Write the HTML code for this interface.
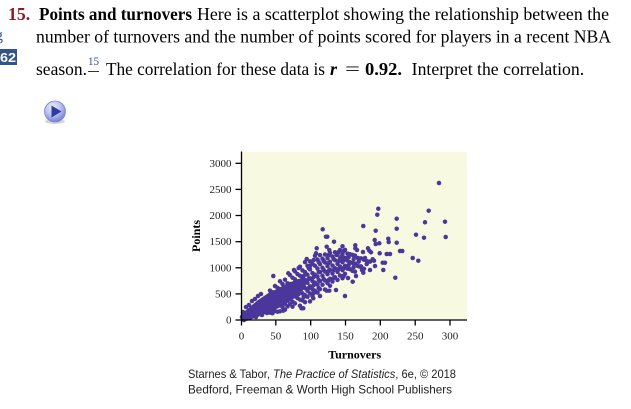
<!DOCTYPE html>
<html>
<head>
<meta charset="utf-8">
<style>
html,body{margin:0;padding:0;background:#fff;}
body{width:631px;height:409px;overflow:hidden;}
svg{display:block;}
.s{font-family:"Liberation Serif",serif;}
.a{font-family:"Liberation Sans",sans-serif;}
g.d circle{r:2.25px;}
</style>
</head>
<body>
<svg width="631" height="409" viewBox="0 0 631 409" xmlns="http://www.w3.org/2000/svg">
<rect x="0" y="0" width="631" height="409" fill="#fff"/>

<!-- left margin fragments -->
<text x="-5" y="40" class="s" font-size="16" fill="#3d5a8a">g</text>
<rect x="0" y="49" width="17" height="16" fill="#34538a"/>
<text x="0" y="62" class="a" font-size="13" font-weight="bold" fill="#fff" textLength="16" lengthAdjust="spacingAndGlyphs">62</text>

<!-- question text -->
<text x="8" y="20" class="s" font-size="17.7" font-weight="bold" fill="#8b1c24">15.</text>
<text x="39" y="20" class="s" font-size="17.7" font-weight="bold" fill="#000" textLength="153" lengthAdjust="spacingAndGlyphs">Points and turnovers</text>
<text x="197" y="20" class="s" font-size="17.7" fill="#000" textLength="412" lengthAdjust="spacingAndGlyphs">Here is a scatterplot showing the relationship between the</text>

<text x="36" y="42.5" class="s" font-size="17.7" fill="#000" textLength="575" lengthAdjust="spacingAndGlyphs">number of turnovers and the number of points scored for players in a recent NBA</text>

<text x="36" y="75" class="s" font-size="17.7" fill="#000" textLength="51" lengthAdjust="spacingAndGlyphs">season.</text>
<text x="88" y="65" class="s" font-size="12" fill="#2b4aa8" textLength="11" lengthAdjust="spacingAndGlyphs">15</text>
<line x1="88" y1="71.5" x2="99" y2="71.5" stroke="#333" stroke-width="1"/>
<text x="106" y="75" class="s" font-size="17.7" fill="#000" textLength="219" lengthAdjust="spacingAndGlyphs">The correlation for these data is</text>
<text x="330" y="75" class="s" font-size="18" font-style="italic" font-weight="bold" fill="#000">r</text>
<text x="345" y="75" class="s" font-size="18" fill="#000" textLength="15" lengthAdjust="spacingAndGlyphs">=</text>
<text x="365" y="75" class="s" font-size="17.7" font-weight="bold" fill="#000" textLength="37" lengthAdjust="spacingAndGlyphs">0.92.</text>
<text x="411.7" y="75" class="s" font-size="17.7" fill="#000" textLength="172.5" lengthAdjust="spacingAndGlyphs">Interpret the correlation.</text>

<!-- play button -->
<defs>
<radialGradient id="pb" cx="0.4" cy="0.3" r="0.75">
<stop offset="0" stop-color="#eef0fd"/>
<stop offset="0.55" stop-color="#b3bbee"/>
<stop offset="1" stop-color="#6a78cc"/>
</radialGradient>
</defs>
<ellipse cx="55" cy="121.5" rx="10" ry="2.5" fill="#bbb" opacity="0.6"/>
<circle cx="55" cy="111.5" r="10.5" fill="url(#pb)" stroke="#7683cf" stroke-width="0.8"/>
<polygon points="51.5,105.5 51.5,117.5 61.5,111.5" fill="#2d3f9e"/>

<!-- plot background -->
<rect x="242" y="152" width="225" height="167" fill="#f8f9e1"/>

<!-- data -->
<g class="d" fill="#4b379b">
<polygon points="241,321 241,315 246,310 252,305 258,300 264,296 270,292 277,289 284,285 291,282 298,279 304,278 306,285 302,292 296,297 289,302 281,307 272,311 263,315 255,318 248,320.5"/>
<circle cx="243" cy="312" r="2.1"/><circle cx="246" cy="307" r="2.1"/><circle cx="249" cy="305" r="2.1"/><circle cx="252" cy="301" r="2.1"/><circle cx="255" cy="299" r="2.1"/><circle cx="258" cy="296" r="2.1"/><circle cx="261" cy="294" r="2.1"/><circle cx="250" cy="318" r="2.1"/><circle cx="256" cy="317" r="2.1"/><circle cx="262" cy="315" r="2.1"/><circle cx="267" cy="313" r="2.1"/><circle cx="273" cy="311" r="2.1"/><circle cx="244" cy="320" r="2.1"/><circle cx="247" cy="318.5" r="2.1"/><circle cx="242" cy="317" r="2.1"/>
<circle cx="270" cy="290.6" r="2.1"/><circle cx="270" cy="295.6" r="2.1"/><circle cx="270" cy="308.6" r="2.1"/><circle cx="270" cy="312.6" r="2.1"/>
<circle cx="272.5" cy="292.3" r="2.1"/><circle cx="272.5" cy="298.3" r="2.1"/><circle cx="272.5" cy="309.3" r="2.1"/><circle cx="272.5" cy="313.3" r="2.1"/>
<circle cx="275" cy="286" r="2.1"/><circle cx="275" cy="294" r="2.1"/><circle cx="275" cy="304" r="2.1"/><circle cx="275" cy="311" r="2.1"/>
<circle cx="277.5" cy="287.7" r="2.1"/><circle cx="277.5" cy="296.7" r="2.1"/><circle cx="277.5" cy="305.7" r="2.1"/><circle cx="277.5" cy="311.7" r="2.1"/>
<circle cx="280" cy="281.3" r="2.1"/><circle cx="280" cy="289.3" r="2.1"/><circle cx="280" cy="297.3" r="2.1"/><circle cx="280" cy="305.3" r="2.1"/><circle cx="280" cy="311.3" r="2.1"/>
<circle cx="282.5" cy="284" r="2.1"/><circle cx="282.5" cy="292" r="2.1"/><circle cx="282.5" cy="301" r="2.1"/><circle cx="282.5" cy="307" r="2.1"/>
<circle cx="285" cy="279.7" r="2.1"/><circle cx="285" cy="287.7" r="2.1"/><circle cx="285" cy="296.7" r="2.1"/><circle cx="285" cy="303.7" r="2.1"/><circle cx="285" cy="309.7" r="2.1"/>
<circle cx="287.5" cy="283.4" r="2.1"/><circle cx="287.5" cy="291.4" r="2.1"/><circle cx="287.5" cy="300.4" r="2.1"/><circle cx="287.5" cy="306.4" r="2.1"/>
<circle cx="290" cy="275" r="2.1"/><circle cx="290" cy="284" r="2.1"/><circle cx="290" cy="291" r="2.1"/><circle cx="290" cy="298" r="2.1"/><circle cx="290" cy="304" r="2.1"/>
<circle cx="292.5" cy="277.7" r="2.1"/><circle cx="292.5" cy="285.7" r="2.1"/><circle cx="292.5" cy="294.7" r="2.1"/><circle cx="292.5" cy="301.7" r="2.1"/><circle cx="292.5" cy="306.7" r="2.1"/>
<circle cx="295" cy="271.4" r="2.1"/><circle cx="295" cy="279.4" r="2.1"/><circle cx="295" cy="287.4" r="2.1"/><circle cx="295" cy="296.4" r="2.1"/><circle cx="295" cy="303.4" r="2.1"/>
<circle cx="297.5" cy="274.1" r="2.1"/><circle cx="297.5" cy="282.1" r="2.1"/><circle cx="297.5" cy="290.1" r="2.1"/><circle cx="297.5" cy="298.1" r="2.1"/>
<circle cx="300" cy="266.7" r="2.1"/><circle cx="300" cy="275.7" r="2.1"/><circle cx="300" cy="283.7" r="2.1"/><circle cx="300" cy="291.7" r="2.1"/><circle cx="300" cy="299.7" r="2.1"/><circle cx="300" cy="305.7" r="2.1"/>
<circle cx="302.5" cy="270.4" r="2.1"/><circle cx="302.5" cy="278.4" r="2.1"/><circle cx="302.5" cy="286.4" r="2.1"/><circle cx="302.5" cy="293.4" r="2.1"/><circle cx="302.5" cy="300.4" r="2.1"/>
<circle cx="305" cy="262.1" r="2.1"/><circle cx="305" cy="272.1" r="2.1"/><circle cx="305" cy="280.1" r="2.1"/><circle cx="305" cy="288.1" r="2.1"/><circle cx="305" cy="295.1" r="2.1"/><circle cx="305" cy="302.1" r="2.1"/>
<circle cx="307.5" cy="265.8" r="2.1"/><circle cx="307.5" cy="274.8" r="2.1"/><circle cx="307.5" cy="282.8" r="2.1"/><circle cx="307.5" cy="290.8" r="2.1"/><circle cx="307.5" cy="296.8" r="2.1"/>
<circle cx="310" cy="261.4" r="2.1"/><circle cx="310" cy="269.4" r="2.1"/><circle cx="310" cy="278.4" r="2.1"/><circle cx="310" cy="286.4" r="2.1"/><circle cx="310" cy="293.4" r="2.1"/><circle cx="310" cy="301.4" r="2.1"/>
<circle cx="312.5" cy="264.1" r="2.1"/><circle cx="312.5" cy="273.1" r="2.1"/><circle cx="312.5" cy="281.1" r="2.1"/><circle cx="312.5" cy="289.1" r="2.1"/><circle cx="312.5" cy="296.1" r="2.1"/>
<circle cx="315" cy="255.8" r="2.1"/><circle cx="315" cy="265.8" r="2.1"/><circle cx="315" cy="274.8" r="2.1"/><circle cx="315" cy="282.8" r="2.1"/><circle cx="315" cy="290.8" r="2.1"/>
<circle cx="317.5" cy="259.5" r="2.1"/><circle cx="317.5" cy="268.5" r="2.1"/><circle cx="317.5" cy="276.5" r="2.1"/><circle cx="317.5" cy="284.5" r="2.1"/><circle cx="317.5" cy="292.5" r="2.1"/>
<circle cx="320" cy="255.1" r="2.1"/><circle cx="320" cy="264.1" r="2.1"/><circle cx="320" cy="272.1" r="2.1"/><circle cx="320" cy="281.1" r="2.1"/><circle cx="320" cy="289.1" r="2.1"/>
<circle cx="322.5" cy="258.8" r="2.1"/><circle cx="322.5" cy="267.8" r="2.1"/><circle cx="322.5" cy="275.8" r="2.1"/><circle cx="322.5" cy="284.8" r="2.1"/>
<circle cx="325" cy="254.5" r="2.1"/><circle cx="325" cy="262.5" r="2.1"/><circle cx="325" cy="271.5" r="2.1"/><circle cx="325" cy="280.5" r="2.1"/><circle cx="325" cy="289.5" r="2.1"/>
<circle cx="327.5" cy="258.2" r="2.1"/><circle cx="327.5" cy="266.2" r="2.1"/><circle cx="327.5" cy="274.2" r="2.1"/><circle cx="327.5" cy="283.2" r="2.1"/>
<circle cx="330" cy="252.8" r="2.1"/><circle cx="330" cy="261.8" r="2.1"/><circle cx="330" cy="269.8" r="2.1"/><circle cx="330" cy="278.8" r="2.1"/><circle cx="330" cy="285.8" r="2.1"/>
<circle cx="332.5" cy="256.5" r="2.1"/><circle cx="332.5" cy="265.5" r="2.1"/><circle cx="332.5" cy="273.5" r="2.1"/><circle cx="332.5" cy="281.5" r="2.1"/>
<circle cx="335" cy="252.2" r="2.1"/><circle cx="335" cy="260.2" r="2.1"/><circle cx="335" cy="268.2" r="2.1"/><circle cx="335" cy="277.2" r="2.1"/>
<circle cx="337.5" cy="254.9" r="2.1"/><circle cx="337.5" cy="263.9" r="2.1"/><circle cx="337.5" cy="271.9" r="2.1"/><circle cx="337.5" cy="279.9" r="2.1"/>
<circle cx="340" cy="250.5" r="2.1"/><circle cx="340" cy="258.5" r="2.1"/><circle cx="340" cy="266.5" r="2.1"/><circle cx="340" cy="275.5" r="2.1"/>
<circle cx="342.5" cy="246.2" r="2.1"/><circle cx="342.5" cy="254.2" r="2.1"/><circle cx="342.5" cy="262.2" r="2.1"/><circle cx="342.5" cy="270.2" r="2.1"/><circle cx="342.5" cy="278.2" r="2.1"/>
<circle cx="345" cy="249.9" r="2.1"/><circle cx="345" cy="257.9" r="2.1"/><circle cx="345" cy="265.9" r="2.1"/><circle cx="345" cy="273.9" r="2.1"/>
<circle cx="347.5" cy="253.6" r="2.1"/><circle cx="347.5" cy="260.6" r="2.1"/><circle cx="347.5" cy="268.6" r="2.1"/>
<circle cx="350" cy="254.2" r="2.1"/><circle cx="350" cy="262.2" r="2.1"/><circle cx="350" cy="269.2" r="2.1"/>
<circle cx="352.5" cy="254.9" r="2.1"/><circle cx="352.5" cy="262.9" r="2.1"/><circle cx="352.5" cy="270.9" r="2.1"/>
<circle cx="355" cy="255.6" r="2.1"/><circle cx="355" cy="263.6" r="2.1"/><circle cx="355" cy="271.6" r="2.1"/>
<circle cx="358" cy="258" r="2.1"/><circle cx="358" cy="266" r="2.1"/>
<circle cx="361" cy="258.4" r="2.1"/><circle cx="361" cy="266.4" r="2.1"/>
<circle cx="364" cy="259.8" r="2.1"/><circle cx="364" cy="268.8" r="2.1"/>
<circle cx="367" cy="261.2" r="2.1"/><circle cx="370" cy="261.6" r="2.1"/>
<circle cx="298.7" cy="268" r="2.1"/><circle cx="298.7" cy="286" r="2.1"/><circle cx="298.7" cy="294" r="2.1"/>
<circle cx="303.7" cy="276" r="2.1"/><circle cx="303.7" cy="284" r="2.1"/><circle cx="303.7" cy="297" r="2.1"/>
<circle cx="308.7" cy="268" r="2.1"/><circle cx="308.7" cy="279" r="2.1"/><circle cx="308.7" cy="288" r="2.1"/>
<circle cx="313.7" cy="260" r="2.1"/><circle cx="313.7" cy="277" r="2.1"/><circle cx="313.7" cy="285" r="2.1"/><circle cx="313.7" cy="293" r="2.1"/>
<circle cx="318.7" cy="262" r="2.1"/><circle cx="318.7" cy="272" r="2.1"/><circle cx="318.7" cy="280" r="2.1"/><circle cx="318.7" cy="288" r="2.1"/>
<circle cx="323.7" cy="261" r="2.1"/><circle cx="323.7" cy="270" r="2.1"/><circle cx="323.7" cy="279" r="2.1"/>
<circle cx="328.7" cy="255" r="2.1"/><circle cx="328.7" cy="263" r="2.1"/><circle cx="328.7" cy="271" r="2.1"/><circle cx="328.7" cy="280" r="2.1"/>
<circle cx="333.7" cy="259" r="2.1"/><circle cx="333.7" cy="270" r="2.1"/><circle cx="333.7" cy="278" r="2.1"/>
<circle cx="338.7" cy="252" r="2.1"/><circle cx="338.7" cy="261" r="2.1"/><circle cx="338.7" cy="269" r="2.1"/>
<circle cx="343.7" cy="251" r="2.1"/><circle cx="343.7" cy="260" r="2.1"/><circle cx="343.7" cy="268" r="2.1"/><circle cx="343.7" cy="276" r="2.1"/>
<circle cx="348.7" cy="257" r="2.1"/><circle cx="348.7" cy="265" r="2.1"/>
<circle cx="353.7" cy="259" r="2.1"/><circle cx="353.7" cy="267" r="2.1"/>
<!-- outliers -->
<circle cx="439" cy="183" r="2.1"/><circle cx="378.3" cy="208.7" r="2.1"/><circle cx="377.3" cy="214.7" r="2.1"/><circle cx="428.7" cy="210.7" r="2.1"/><circle cx="396.7" cy="218.7" r="2.1"/><circle cx="445" cy="221.7" r="2.1"/><circle cx="425" cy="222.3" r="2.1"/><circle cx="363.3" cy="226" r="2.1"/><circle cx="396.7" cy="228.7" r="2.1"/><circle cx="375.7" cy="230.7" r="2.1"/><circle cx="322.7" cy="229.3" r="2.1"/><circle cx="416" cy="234.7" r="2.1"/><circle cx="445.7" cy="237" r="2.1"/><circle cx="424" cy="237.7" r="2.1"/><circle cx="326" cy="236.7" r="2.1"/><circle cx="327.3" cy="236.7" r="2.1"/><circle cx="388.3" cy="238.7" r="2.1"/><circle cx="388.7" cy="242" r="2.1"/><circle cx="374.7" cy="240" r="2.1"/><circle cx="375.7" cy="244" r="2.1"/><circle cx="396.7" cy="242.7" r="2.1"/><circle cx="334" cy="241.7" r="2.1"/><circle cx="368" cy="248.3" r="2.1"/><circle cx="369.3" cy="250.7" r="2.1"/><circle cx="371" cy="252.3" r="2.1"/><circle cx="355.3" cy="245.3" r="2.1"/><circle cx="355.3" cy="248.3" r="2.1"/><circle cx="379.3" cy="243.3" r="2.1"/><circle cx="379.7" cy="253.3" r="2.1"/><circle cx="400" cy="251" r="2.1"/><circle cx="402.3" cy="251" r="2.1"/><circle cx="386.7" cy="254" r="2.1"/><circle cx="390" cy="254" r="2.1"/><circle cx="306.7" cy="259" r="2.1"/><circle cx="412.7" cy="258" r="2.1"/><circle cx="418.3" cy="260.7" r="2.1"/><circle cx="372.7" cy="259.3" r="2.1"/><circle cx="374" cy="260.7" r="2.1"/><circle cx="375" cy="266" r="2.1"/><circle cx="382.7" cy="262.7" r="2.1"/><circle cx="385" cy="262.7" r="2.1"/><circle cx="383.3" cy="270" r="2.1"/><circle cx="395.3" cy="277.7" r="2.1"/><circle cx="363.3" cy="272.7" r="2.1"/><circle cx="360" cy="266.7" r="2.1"/><circle cx="366.7" cy="264" r="2.1"/><circle cx="358" cy="258.3" r="2.1"/><circle cx="358.7" cy="261.7" r="2.1"/><circle cx="345" cy="296" r="2.1"/><circle cx="352.7" cy="281.7" r="2.1"/><circle cx="316.7" cy="248.3" r="2.1"/><circle cx="316" cy="253.3" r="2.1"/><circle cx="326.7" cy="246.7" r="2.1"/><circle cx="329.3" cy="250" r="2.1"/><circle cx="340" cy="250" r="2.1"/><circle cx="273.3" cy="276" r="2.1"/><circle cx="288.3" cy="273.3" r="2.1"/><circle cx="294" cy="270" r="2.1"/><circle cx="310" cy="266" r="2.1"/><circle cx="303.3" cy="308.3" r="2.1"/><circle cx="301.5" cy="308.3" r="2.1"/><circle cx="313.3" cy="298.3" r="2.1"/><circle cx="336.7" cy="255" r="2.1"/><circle cx="341.7" cy="256.7" r="2.1"/><circle cx="346.7" cy="258.3" r="2.1"/><circle cx="283.3" cy="310.7" r="2.1"/><circle cx="326.7" cy="290.7" r="2.1"/><circle cx="329.3" cy="290.7" r="2.1"/><circle cx="320" cy="296" r="2.1"/><circle cx="336" cy="290" r="2.1"/><circle cx="348" cy="278" r="2.1"/><circle cx="356" cy="276" r="2.1"/><circle cx="362" cy="270" r="2.1"/><circle cx="370" cy="270" r="2.1"/><circle cx="365" cy="258" r="2.1"/><circle cx="357" cy="250" r="2.1"/><circle cx="363" cy="252" r="2.1"/>
</g>

<!-- axes -->
<g stroke="#000" stroke-width="1.3" fill="none">
<line x1="241.5" y1="151.5" x2="241.5" y2="320.6"/>
<line x1="241" y1="320" x2="467" y2="320"/>
<line x1="235.5" y1="320" x2="241.5" y2="320"/>
<line x1="235.5" y1="293.9" x2="241.5" y2="293.9"/>
<line x1="235.5" y1="267.8" x2="241.5" y2="267.8"/>
<line x1="235.5" y1="241.7" x2="241.5" y2="241.7"/>
<line x1="235.5" y1="215.5" x2="241.5" y2="215.5"/>
<line x1="235.5" y1="189.4" x2="241.5" y2="189.4"/>
<line x1="235.5" y1="163.3" x2="241.5" y2="163.3"/>
<line x1="241.5" y1="320" x2="241.5" y2="325.5"/>
<line x1="275.8" y1="320" x2="275.8" y2="325.5"/>
<line x1="310.7" y1="320" x2="310.7" y2="325.5"/>
<line x1="345.5" y1="320" x2="345.5" y2="325.5"/>
<line x1="380.3" y1="320" x2="380.3" y2="325.5"/>
<line x1="415.2" y1="320" x2="415.2" y2="325.5"/>
<line x1="450" y1="320" x2="450" y2="325.5"/>
</g>

<g class="s" font-size="11" fill="#222" text-anchor="end">
<text x="231.5" y="323.5">0</text>
<text x="231.5" y="297.4">500</text>
<text x="231.5" y="271.3">1000</text>
<text x="231.5" y="245.2">1500</text>
<text x="231.5" y="219">2000</text>
<text x="231.5" y="192.9">2500</text>
<text x="231.5" y="166.8">3000</text>
</g>
<g class="s" font-size="11" fill="#222" text-anchor="middle">
<text x="241.5" y="339.5">0</text>
<text x="275.8" y="339.5">50</text>
<text x="310.7" y="339.5">100</text>
<text x="345.5" y="339.5">150</text>
<text x="380.3" y="339.5">200</text>
<text x="415.2" y="339.5">250</text>
<text x="450" y="339.5">300</text>
</g>

<text x="354.7" y="358.5" class="s" font-size="12" font-weight="bold" fill="#000" text-anchor="middle">Turnovers</text>
<text transform="translate(200,236) rotate(-90)" class="s" font-size="12" font-weight="bold" fill="#000" text-anchor="middle">Points</text>

<!-- caption -->
<text x="188" y="378" class="a" font-size="12" fill="#222" textLength="268" lengthAdjust="spacingAndGlyphs">Starnes &amp; Tabor, <tspan font-style="italic">The Practice of Statistics</tspan>, 6e, © 2018</text>
<text x="188" y="393.3" class="a" font-size="12" fill="#222" textLength="264" lengthAdjust="spacingAndGlyphs">Bedford, Freeman &amp; Worth High School Publishers</text>
</svg>
</body>
</html>
